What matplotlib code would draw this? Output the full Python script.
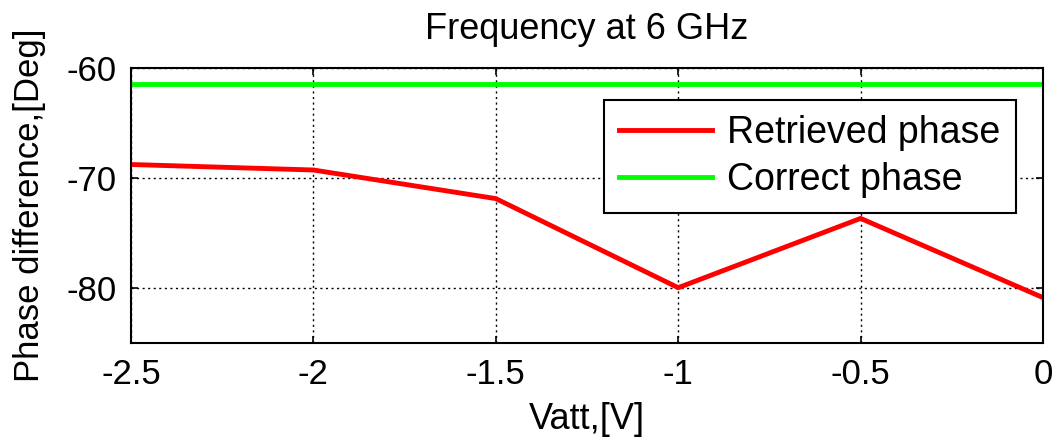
import matplotlib.pyplot as plt

# data
vatt = [-2.5, -2.0, -1.5, -1.0, -0.5, 0.0]
retrieved_phase = [-68.8, -69.3, -71.9, -80.0, -73.7, -80.9]
correct_phase = [-61.5, -61.5, -61.5, -61.5, -61.5, -61.5]
x_ticks = [-2.5, -2, -1.5, -1, -0.5, 0]
x_tick_labels = ['-2.5', '-2', '-1.5', '-1', '-0.5', '0']
y_ticks = [-80, -70, -60]

plt.rcParams['font.family'] = ['Liberation Sans', 'DejaVu Sans']
plt.rcParams['axes.unicode_minus'] = False

fig = plt.figure(figsize=(10.6, 4.42), dpi=100)
ax = fig.add_axes([131/1060, 1 - 342.7/442, (1043 - 131)/1060, (342.7 - 67.7)/442])

ax.plot(vatt, retrieved_phase, color='#ff0000', linewidth=3.5, label='Retrieved phase')
ax.plot(vatt, correct_phase, color='#00ff00', linewidth=3.5, label='Correct phase')

ax.set_xlim(-2.5, 0)
ax.set_ylim(-85, -60)
ax.set_xticks(x_ticks)
ax.set_xticklabels(x_tick_labels)
ax.set_yticks(y_ticks)
ax.tick_params(direction='in', top=True, right=True, labelsize=25, length=5, width=1.2)
ax.tick_params(axis='x', pad=11)
ax.tick_params(axis='y', pad=10)
ax.grid(True, color='black', linestyle=(0, (1.5, 2.5)), linewidth=1)
for s in ax.spines.values():
    s.set_linewidth(1.5)

ax.set_title('Frequency at 6 GHz', fontsize=26, pad=21)
ax.set_xlabel('Vatt,[V]', fontsize=26, labelpad=8)
ax.set_ylabel('Phase difference,[Deg]', fontsize=25, labelpad=15)

leg = ax.legend(loc='upper right', bbox_to_anchor=(0.970, 0.8825), fontsize=27,
                fancybox=False, framealpha=1, edgecolor='black', handlelength=2.5,
                handletextpad=0.4, borderpad=0.4, labelspacing=0.3, borderaxespad=0)
leg.get_frame().set_linewidth(1.5)

plt.savefig('out.png', dpi=100)
